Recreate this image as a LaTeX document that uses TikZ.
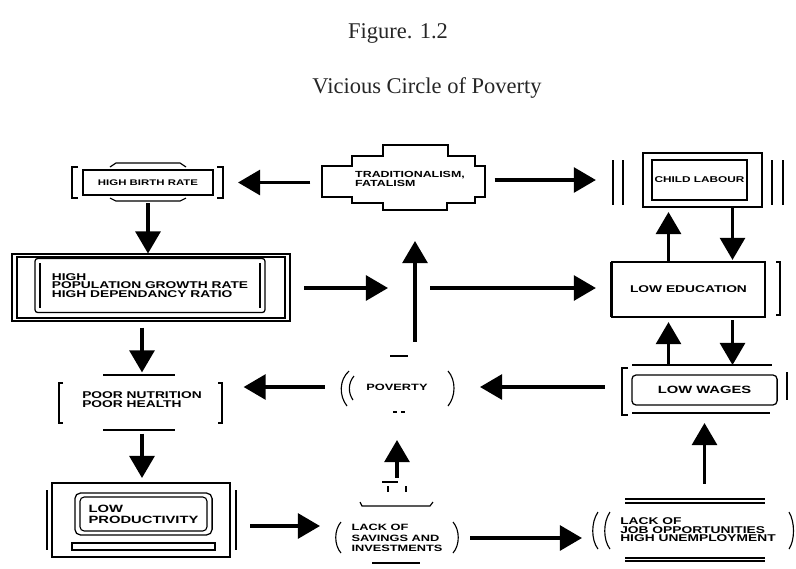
\documentclass[tikz,border=0pt]{standalone}
\usepackage{fontspec}
\setmainfont{Liberation Serif}
\newfontfamily\boxfont[FakeStretch=1.4]{Liberation Sans}
\usetikzlibrary{arrows.meta, calc}
\newcommand{\bxf}[2]{\boxfont\bfseries\fontsize{#1}{#2}\selectfont}
\tikzset{
  cause/.style={rectangle, inner sep=0pt, outer sep=0pt, align=center, font={\bxf{7}{6.5}}},
  boxed/.style={cause, draw, line width=0.9pt},
  frame/.style={line width=0.8pt},
  arrow/.style={line width=2.4pt, -{Triangle[length=5.5mm,width=6.2mm]}},
  heading/.style={font=\fontsize{16}{18}\selectfont, text=black!85}
}

\begin{document}
\begin{tikzpicture}[x=0.025cm, y=-0.025cm]
    \useasboundingbox (0,0) rectangle (796,568);

    % Titles
    \node[heading] (fig) at (398,33) {Figure. 1.2};
    \node[heading] (title) at (427,88) {Vicious Circle of Poverty};

    % ==========================================
    % CAUSES
    % ==========================================

    % Top row
    \node[boxed, minimum width=3.25cm, minimum height=0.63cm, font={\bxf{5.8}{6}}] (hbr) at (148,182.5) {HIGH BIRTH RATE};
    \node[cause, minimum width=4.08cm, minimum height=1.6cm, align=left, font={\bxf{6.3}{6}}] (trad) at (410,179) {TRADITIONALISM,\\FATALISM};
    \node[boxed, minimum width=2.38cm, minimum height=1cm, font={\bxf{6}{6}}] (chl) at (699.5,180) {CHILD LABOUR};

    % Second row
    \node[boxed, rounded corners=2pt, minimum width=5.75cm, minimum height=1.35cm, align=left, font={\bxf{7}{6.2}}] (hpop) at (150,285.5) {HIGH\\POPULATION GROWTH RATE\\HIGH DEPENDANCY RATIO};
    \node[boxed, minimum width=3.83cm, minimum height=1.38cm] (ledu) at (688.5,289.5) {LOW EDUCATION};
    \coordinate (mid) at (415,288);

    % Third row
    \node[cause, minimum width=4.08cm, minimum height=1.38cm, align=left] (pnut) at (142,400) {POOR NUTRITION\\POOR HEALTH};
    \node[cause, minimum width=2.95cm, minimum height=1cm, font={\bxf{6.5}{6.5}}] (pov) at (397,387) {POVERTY};
    \node[boxed, rounded corners=3pt, minimum width=3.63cm, minimum height=0.75cm, font={\bxf{7.5}{7.5}}] (lwag) at (704.5,390) {LOW WAGES};

    % Bottom row
    \node[boxed, rounded corners=4pt, minimum width=3.43cm, minimum height=1.05cm, align=left, font={\bxf{7.5}{8}}] (lprod) at (143.5,514) {LOW\\PRODUCTIVITY};
    \node[cause, minimum width=3cm, minimum height=0.9cm, align=left, font={\bxf{6.5}{7.5}}] (lsav) at (397,538) {LACK OF\\SAVINGS AND\\INVESTMENTS};
    \node[cause, minimum width=5cm, minimum height=1.25cm, align=left, font={\bxf{7}{6}}] (ljob) at (698,530) {LACK OF\\JOB OPPORTUNITIES\\HIGH UNEMPLOYMENT};

    % ==========================================
    % FRAMES AROUND THE BOXES
    % ==========================================

    % High birth rate
    \draw[frame] (78,167) -- (72,167) -- (72,198) -- (78,198);
    \draw[frame] (217,167) -- (223,167) -- (223,198) -- (217,198);
    \draw[frame] (110,167) -- (116,163) -- (180,163) -- (186,167);
    \draw[frame] (110,198) -- (116,201) -- (180,201) -- (186,198);

    % Traditionalism (cross outline)
    \draw[frame] (383,145) -- (448,145) -- (448,156) -- (475,156) -- (475,166) -- (485,166) -- (485,197)
        -- (475,197) -- (475,203) -- (447,203) -- (447,210) -- (383,210) -- (383,203) -- (352,203)
        -- (352,197) -- (322,197) -- (322,166) -- (352,166) -- (352,156) -- (383,156) -- cycle;

    % Child labour
    \draw[frame] (643,153) rectangle (762,207);
    \foreach \x in {613,623,772,783} {
        \draw[frame, line width=1.2pt] (\x,160) -- (\x,205);
    }

    % High population growth
    \draw[frame] (12,254) rectangle (290,321);
    \draw[frame] (17,257) rectangle (285,318);
    \draw[line width=1.6pt] (40,263) -- (40,308);
    \draw[line width=1.6pt] (260,263) -- (260,308);

    % Low education
    \draw[line width=2pt] (ledu.north west) -- (ledu.south west);
    \draw[frame] (776,262) -- (780,262) -- (780,315) -- (776,315);

    % Poor nutrition
    \draw[frame, line width=1.4pt] (63,383) -- (59,383) -- (59,423) -- (63,423);
    \draw[frame, line width=1.4pt] (218,383) -- (222,383) -- (222,423) -- (218,423);
    \draw[frame] (103,375) -- (175,375);
    \draw[frame] (103,430) -- (175,430);

    % Poverty
    \draw[frame] (349,371) .. controls (339,380) and (339,396) .. (347,406);
    \draw[frame] (354,376) .. controls (348,383) and (348,393) .. (353,400);
    \draw[frame] (448,371) .. controls (456,380) and (456,396) .. (448,406);
    \draw[frame] (390,356) -- (408,356);
    \draw[frame] (393,412) -- (397,412);
    \draw[frame] (401,412) -- (405,412);

    % Low wages
    \draw[frame, line width=1.4pt] (628,368) -- (622,368) -- (622,415) -- (628,415);
    \draw[frame] (632,365) -- (772,365);
    \draw[frame] (632,413) -- (770,413);
    \draw[frame, line width=1.2pt] (787,372) -- (787,400);

    % Low productivity
    \draw[frame] (52,483) rectangle (230,557);
    \draw[frame] (47,490) -- (47,550);
    \draw[frame] (236,490) -- (236,550);
    \draw[frame, rounded corners=3pt] (80,497) rectangle (207,531);
    \draw[frame] (72,543) rectangle (215,550);

    % Lack of savings
    \draw[frame] (341,522) .. controls (334,530) and (334,545) .. (341,553);
    \draw[frame] (453,522) .. controls (460,530) and (460,545) .. (453,553);
    \draw[frame] (360,502) -- (362,506) -- (430,506) -- (433,502);
    \draw[frame] (382,482) -- (398,482);
    \draw[frame] (388,486) -- (388,492);
    \draw[frame] (406,486) -- (406,492);
    \draw[frame] (372,563) -- (420,563);

    % Lack of job opportunities
    \draw[frame] (598,512) .. controls (591,522) and (591,540) .. (598,549);
    \draw[frame] (610,512) .. controls (603,522) and (603,540) .. (610,549);
    \draw[frame] (789,512) .. controls (795,522) and (795,540) .. (789,549);
    \draw[frame] (625,499) -- (765,499);
    \draw[frame] (625,503) -- (765,503);
    \draw[frame] (625,558) -- (765,558);
    \draw[frame] (625,561) -- (765,561);

    % ==========================================
    % ARROWS
    % ==========================================

    % From traditionalism
    \draw[arrow, shorten <=4.5mm, shorten >=6.25mm] (hbr.east -| trad.west) -- (hbr.east);
    \draw[arrow, shorten <=0.75mm, shorten >=14mm] (chl.west -| trad.east) -- (chl.west);

    % Left column
    \draw[arrow, shorten <=2mm, shorten >=1.25mm] (hbr.south) -- (hbr.south |- hpop.north);
    \draw[arrow, shorten <=3.75mm] (hpop.south -| pnut.north) -- (pnut.north);
    \draw[arrow, shorten <=1.5mm, shorten >=3.75mm] (pnut.south) -- (pnut.south |- lprod.north);

    % Middle
    \draw[arrow, shorten <=9.75mm, shorten >=6.75mm] (mid -| hpop.east) -- (mid);
    \draw[arrow, shorten <=6.25mm, shorten >=7.5mm] (mid |- pov.north) -- (mid |- trad.south);
    \draw[arrow, shorten <=3.75mm, shorten >=4mm] (mid) -- (mid -| ledu.west);
    \draw[arrow, shorten <=3.25mm, shorten >=5mm] (pov.west) -- (pov.west -| pnut.east);
    \draw[arrow, shorten <=6.75mm, shorten >=6mm] (pov.east -| lwag.west) -- (pov.east);
    \draw[arrow, shorten <=10.5mm, shorten >=8.25mm] (lsav.north) -- (pov.south);

    % Right column
    \draw[arrow, shorten >=3mm] ([xshift=-5mm]ledu.north) -- ([xshift=-5mm]ledu.north |- chl.south);
    \draw[arrow, shorten <=2mm, shorten >=0.5mm] ([xshift=11mm]ledu.north |- chl.south) -- ([xshift=11mm]ledu.north);
    \draw[arrow, shorten <=2.5mm, shorten >=1.25mm] ([xshift=-5mm]ledu.south |- lwag.north) -- ([xshift=-5mm]ledu.south);
    \draw[arrow, shorten <=0.75mm, shorten >=2.5mm] ([xshift=11mm]ledu.south) -- ([xshift=11mm]ledu.south |- lwag.north);
    \draw[arrow, shorten <=5.25mm, shorten >=4.5mm] (lwag.south |- ljob.north) -- (lwag.south);

    % Bottom row
    \draw[arrow, shorten <=9.5mm, shorten >=4.25mm] ([yshift=-3mm]lprod.east) -- ([yshift=-3mm]lprod.east -| lsav.west);
    \draw[arrow, shorten <=3.25mm, shorten >=4mm] (lsav.east) -- (lsav.east -| ljob.west);

\end{tikzpicture}
\end{document}
